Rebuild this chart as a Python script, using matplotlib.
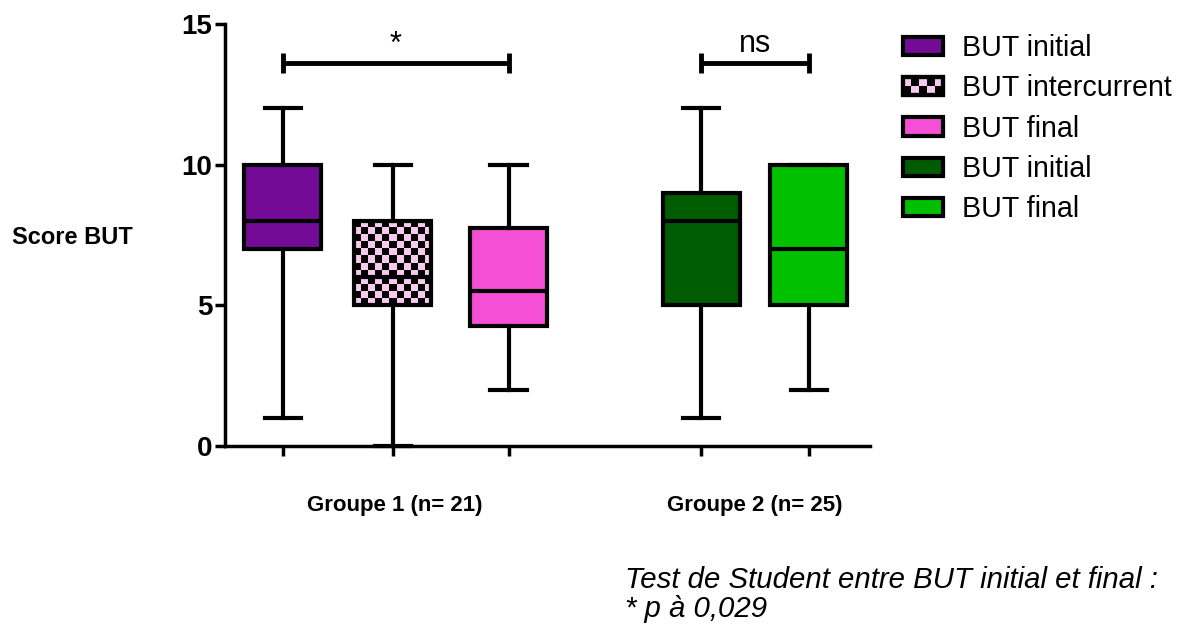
import numpy as np
import matplotlib
matplotlib.use("Agg")
import matplotlib.pyplot as plt
from matplotlib.colors import ListedColormap
from matplotlib.patches import Patch, Rectangle
from matplotlib.legend_handler import HandlerBase

plt.rcParams["font.family"] = ["Liberation Sans", "DejaVu Sans"]

# box statistics
labels = ["BUT initial", "BUT intercurrent", "BUT final", "BUT initial", "BUT final"]
whisker_low = [1, 0, 2, 1, 2]
q1 = [7, 5, 4.25, 5, 5]
median = [8, 6, 5.5, 8, 7]
q3 = [10, 8, 7.75, 9, 10]
whisker_high = [12, 10, 10, 12, 10]
positions = [1.0, 2.0, 3.05, 4.8, 5.78]
colors = ["#730b96", "#f8c8ef", "#f54fd6", "#005c00", "#00c000"]

groups = ["Groupe 1 (n= 21)", "Groupe 2 (n= 25)"]
group_members = [[0, 1, 2], [3, 4]]
# significance brackets: (first box, last box, label)
comparisons = [(0, 2, "*"), (3, 4, "ns")]
bracket_y = 13.62

CHECKER_BOX = 1


class HandlerChecker(HandlerBase):
    def create_artists(self, legend, orig_handle, xdescent, ydescent,
                       width, height, fontsize, trans):
        arts = [Rectangle((-xdescent, -ydescent), width, height,
                          facecolor=colors[CHECKER_BOX], edgecolor="black",
                          lw=3, transform=trans)]
        n = 5
        w = width / n
        for i in range(n):
            for j in range(2):
                if (i + j) % 2 == 0:
                    arts.append(Rectangle((-xdescent + i * w, -ydescent + j * height / 2),
                                          w, height / 2, facecolor="black",
                                          edgecolor="none", transform=trans))
        arts.append(Rectangle((-xdescent, -ydescent), width, height,
                              facecolor="none", edgecolor="black", lw=3,
                              transform=trans))
        return arts


fig = plt.figure(figsize=(11.77, 6.25), dpi=100)
ax = fig.add_axes([225 / 1177, 1 - 446 / 625, (870 - 225) / 1177, (446 - 24) / 625])

stats = [dict(whislo=whisker_low[i], q1=q1[i], med=median[i], q3=q3[i],
              whishi=whisker_high[i], fliers=[]) for i in range(len(labels))]
bp = ax.bxp(stats, positions=positions, widths=0.70, patch_artist=True,
            showfliers=False, capwidths=0.33,
            boxprops=dict(lw=3, edgecolor="black"),
            medianprops=dict(lw=3, color="black"),
            whiskerprops=dict(lw=3, color="black"),
            capprops=dict(lw=3, color="black"),
            manage_ticks=False)
for box, c in zip(bp["boxes"], colors):
    box.set_facecolor(c)
    box.set_zorder(3)
for key in ["whiskers", "caps", "medians"]:
    for art in bp[key]:
        art.set_clip_on(False)
        art.set_zorder(4)

# checkerboard fill for the intercurrent box
cb = bp["boxes"][CHECKER_BOX]
cb.set_facecolor("none")
x0 = positions[CHECKER_BOX] - 0.35
x1 = positions[CHECKER_BOX] + 0.35
nx, ny = 11, 12
board = np.indices((ny, nx)).sum(axis=0) % 2
im = ax.imshow(board[::-1], extent=(x0, x1, q1[CHECKER_BOX], q3[CHECKER_BOX]),
               cmap=ListedColormap(["black", colors[CHECKER_BOX]]),
               interpolation="nearest", aspect="auto", zorder=2, origin="lower")
im.set_clip_path(cb)

ax.set_xlim(0.473, 6.336)
ax.set_ylim(0, 15)
ax.set_yticks([0, 5, 10, 15])
ax.set_xticks(positions)
ax.set_xticklabels([])
for s in ["top", "right"]:
    ax.spines[s].set_visible(False)
for s in ["left", "bottom"]:
    ax.spines[s].set_linewidth(2.5)
ax.tick_params(axis="both", width=2.5, length=7, direction="out")
ax.tick_params(axis="y", labelsize=20, pad=2)
for t in ax.get_yticklabels():
    t.set_fontweight("bold")

# significance brackets
for a, b, txt in comparisons:
    xa, xb = positions[a], positions[b]
    ax.plot([xa, xb], [bracket_y, bracket_y], color="black", lw=3.5,
            solid_capstyle="butt")
    for xe in (xa, xb):
        ax.plot([xe, xe], [bracket_y - 0.35, bracket_y + 0.35], color="black",
                lw=3.5, solid_capstyle="butt")
    ax.text((xa + xb) / 2, bracket_y + 0.12, txt, ha="center", va="bottom",
            fontsize=22)

# group labels
for g, members in zip(groups, group_members):
    xc = np.mean([positions[m] for m in members])
    ax.text(xc, -0.14, g, transform=ax.get_xaxis_transform(), ha="center",
            va="center", fontsize=16, fontweight="bold")

fig.text(12 / 1177, 1 - 238 / 625, "Score BUT", ha="left", va="center",
         fontsize=17, fontweight="bold")

handles = [Patch(facecolor=c, edgecolor="black", lw=3) for c in colors]
handles[CHECKER_BOX] = "checker"
ax.legend(handles, labels, loc="upper left",
          bbox_to_anchor=(903 / 1177, 1 - 34 / 625), bbox_transform=fig.transFigure,
          frameon=False, fontsize=20.6, handlelength=1.4, handleheight=0.6,
          handletextpad=0.65, labelspacing=0.43, borderpad=0, borderaxespad=0,
          handler_map={str: HandlerChecker()})

fig.text(625 / 1177, 1 - 580 / 625, "Test de Student entre BUT initial et final :",
         ha="left", va="center", fontsize=21.2, style="italic")
fig.text(625 / 1177, 1 - 609 / 625, "* p à 0,029", ha="left", va="center",
         fontsize=21.2, style="italic")

fig.savefig("out.png", dpi=100)
